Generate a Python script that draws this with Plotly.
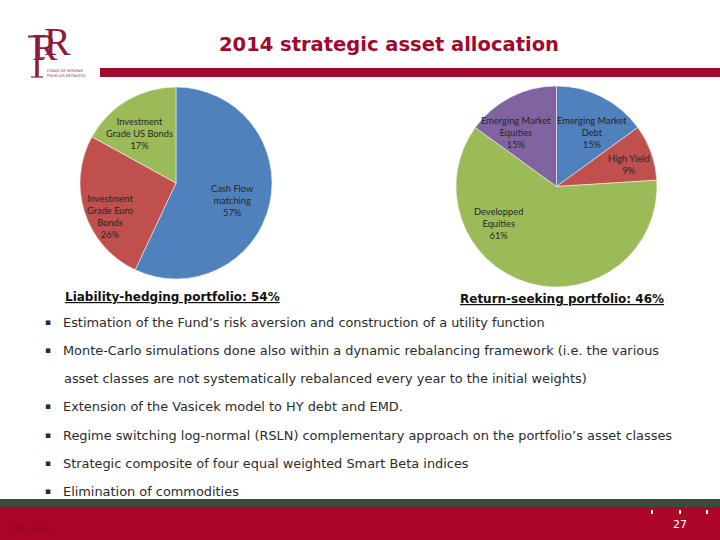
import plotly.graph_objects as go

W, H = 720, 540

# ---- data ----
lh_labels = ["Cash Flow<br>matching", "Investment<br>Grade Euro<br>Bonds", "Investment<br>Grade US Bonds"]
lh_values = [57, 26, 17]
rs_labels = ["Emerging Market<br>Debt", "High Yield", "Developped<br>Equities", "Emerging Market<br>Equities"]
rs_values = [15, 9, 61, 15]
bullets = [
    "Estimation of the Fund’s risk aversion and construction of a utility function",
    "Monte-Carlo simulations done also within a dynamic rebalancing framework (i.e. the various",
    None,
    "Extension of the Vasicek model to HY debt and EMD.",
    "Regime switching log-normal (RSLN) complementary approach on the portfolio’s asset classes",
    "Strategic composite of four equal weighted Smart Beta indices",
    "Elimination of commodities",
]
bullet_cont = "asset classes are not systematically rebalanced every year to the initial weights)"
title = "2014 strategic asset allocation"
lh_title = "Liability-hedging portfolio: 54%"
rs_title = "Return-seeking portfolio: 46%"
page_no = "27"

# ---- styles ----
BLUE, RED, GREEN, PURPLE = "#4F81BD", "#C0504D", "#9BBB59", "#8064A2"
DARKRED = "#A00A2E"
LOGO = "#8E1B3A"


def px(x):
    return x / W


def py(y):
    return 1 - y / H


fig = go.Figure()

fig.add_trace(go.Pie(
    values=lh_values, labels=lh_labels, sort=False, direction="clockwise", rotation=0,
    marker=dict(colors=[BLUE, RED, GREEN], line=dict(color="white", width=0.5)),
    textinfo="none", hoverinfo="label+percent",
    domain=dict(x=[px(80), px(272)], y=[py(279), py(87)]),
))
fig.add_trace(go.Pie(
    values=rs_values, labels=rs_labels, sort=False, direction="clockwise", rotation=0,
    marker=dict(colors=[BLUE, RED, GREEN, PURPLE], line=dict(color="white", width=0.5)),
    textinfo="none", hoverinfo="label+percent",
    domain=dict(x=[px(456), px(657)], y=[py(287), py(86)]),
))

ann = []
lab_font = dict(family="Lato", size=9.3, color="#262626")
lh_pos = [(232, 200), (110, 216), (139, 134)]
rs_pos = [(592, 133), (629, 164), (498, 224), (516, 133)]
for lab, v, (x, y) in zip(lh_labels, lh_values, lh_pos):
    ann.append(dict(x=px(x), y=py(y), text=f"{lab}<br>{v}%", showarrow=False,
                    font=lab_font, align="center", xanchor="center", yanchor="middle"))
for lab, v, (x, y) in zip(rs_labels, rs_values, rs_pos):
    ann.append(dict(x=px(x), y=py(y), text=f"{lab}<br>{v}%", showarrow=False,
                    font=lab_font, align="center", xanchor="center", yanchor="middle"))

# title
ann.append(dict(x=px(389), y=py(44), text=f"<b>{title}</b>", showarrow=False,
                font=dict(family="DejaVu Sans", size=19.5, color=DARKRED),
                xanchor="center", yanchor="middle"))

# portfolio titles
ann.append(dict(x=px(63), y=py(297), text=f"<u><b>{lh_title}</b></u>", showarrow=False,
                font=dict(family="DejaVu Sans", size=12, color="#111111"),
                xanchor="left", yanchor="middle"))
ann.append(dict(x=px(458), y=py(299), text=f"<u><b>{rs_title}</b></u>", showarrow=False,
                font=dict(family="DejaVu Sans", size=12, color="#111111"),
                xanchor="left", yanchor="middle"))

# bullets
ys = [322, 350, 378, 406, 435, 463, 491]
bfont = dict(family="DejaVu Sans", size=12.9, color="#2b2b2b")
for b, y in zip(bullets, ys):
    if b is None:
        ann.append(dict(x=px(62), y=py(y), text=bullet_cont, showarrow=False, font=bfont,
                        xanchor="left", yanchor="middle"))
    else:
        ann.append(dict(x=px(43), y=py(y), text="▪", showarrow=False,
                        font=dict(family="DejaVu Sans", size=9, color="#2b2b2b"),
                        xanchor="left", yanchor="middle"))
        ann.append(dict(x=px(61), y=py(y), text=b, showarrow=False, font=bfont,
                        xanchor="left", yanchor="middle"))

# logo: two R letters + F drawn as strokes
logo_font = "Liberation Serif"
ann.append(dict(x=px(45), y=py(47), text="R", showarrow=False,
                font=dict(family=logo_font, size=38, color=LOGO), xanchor="center", yanchor="middle"))
ann.append(dict(x=px(57), y=py(41), text="R", showarrow=False,
                font=dict(family=logo_font, size=40, color=LOGO), xanchor="center", yanchor="middle"))
ann.append(dict(x=px(45), y=py(72.5), text="FONDS DE RÉSERVE<br>POUR LES RETRAITES", showarrow=False,
                font=dict(family="DejaVu Sans", size=3.6, color=LOGO), xanchor="left",
                yanchor="middle", align="left"))

# footer
ann.append(dict(x=px(680), y=py(524), text=page_no, showarrow=False,
                font=dict(family="DejaVu Sans", size=11, color="white"), xanchor="center", yanchor="middle"))
ann.append(dict(x=px(8), y=py(529), text="CDC-Interne", showarrow=False,
                font=dict(family="DejaVu Sans", size=7, color="#8C0626"), xanchor="left", yanchor="middle"))

shapes = [
    dict(type="rect", xref="paper", yref="paper", x0=px(100), x1=1, y0=py(77), y1=py(68),
         fillcolor=DARKRED, line=dict(width=0), layer="below"),
    dict(type="rect", xref="paper", yref="paper", x0=0, x1=1, y0=py(507), y1=py(499),
         fillcolor="#3C4A3A", line=dict(width=0), layer="below"),
    dict(type="rect", xref="paper", yref="paper", x0=0, x1=1, y0=0, y1=py(507),
         fillcolor="#AC0529", line=dict(width=0), layer="below"),
    # F of the logo
    dict(type="line", xref="paper", yref="paper", x0=px(37), x1=px(37), y0=py(77), y1=py(36),
         line=dict(color=LOGO, width=3.5)),
    dict(type="line", xref="paper", yref="paper", x0=px(28), x1=px(46), y0=py(36.5), y1=py(36.5),
         line=dict(color=LOGO, width=2)),
    dict(type="line", xref="paper", yref="paper", x0=px(37), x1=px(45), y0=py(58), y1=py(58),
         line=dict(color=LOGO, width=1.5)),
    dict(type="line", xref="paper", yref="paper", x0=px(31), x1=px(43), y0=py(77), y1=py(77),
         line=dict(color=LOGO, width=1.2)),
]
for x in (652, 680, 707):
    shapes.append(dict(type="rect", xref="paper", yref="paper", x0=px(x - 1), x1=px(x + 1),
                       y0=py(514), y1=py(510), fillcolor="white", line=dict(width=0)))

fig.update_layout(
    width=W, height=H, margin=dict(l=0, r=0, t=0, b=0),
    paper_bgcolor="white", plot_bgcolor="white", showlegend=False,
    annotations=ann, shapes=shapes,
)

fig.write_html("out.html", config={"displayModeBar": False},
               post_script="document.body.style.margin='0';document.body.style.overflow='hidden';")
